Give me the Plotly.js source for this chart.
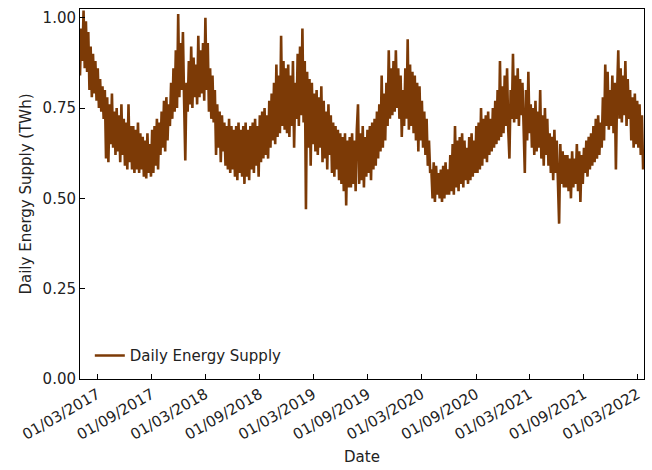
<!DOCTYPE html>
<html>
<head>
<meta charset="utf-8">
<script src="https://cdn.plot.ly/plotly-3.0.1.min.js"></script>
<style>html,body{margin:0;padding:0;background:#fff;}#chart{width:652px;height:470px;}</style>
</head>
<body>
<div id="chart"></div>
<script>
// Daily energy supply (TWh), sampled every 4 days starting 2017-01-01
const startDate = '2017-01-01';
const stepDays = 4;
const v2017 = [
  0.84,0.97,0.88,1.02,0.86,0.99,0.85,0.96,
  0.80,0.92,0.78,0.90,0.79,0.88,0.77,
  0.86,0.75,0.83,0.74,0.81,0.72,0.80,0.61,
  0.78,0.60,0.76,0.65,0.79,0.64,0.74,
  0.62,0.75,0.63,0.73,0.60,0.76,0.62,0.72,
  0.59,0.71,0.58,0.76,0.60,0.70,0.58,
  0.70,0.57,0.69,0.58,0.71,0.57,0.68,0.58,
  0.67,0.56,0.66,0.555,0.68,0.57,0.65,0.56,
  0.69,0.57,0.70,0.59,0.72,0.58,0.71,
  0.62,0.74,0.64,0.77,0.63,0.78,0.66,0.76,
  0.70,0.82,0.72,0.86,0.74,0.91,0.75,
  1.01,0.78,0.93,0.80,0.96,0.77,0.605,0.82,0.74
];
const v2018 = [
  0.88,0.76,0.92,0.75,0.89,0.78,0.87,0.76,
  0.95,0.78,0.91,0.79,0.93,0.77,1.00,
  0.80,0.93,0.74,0.86,0.72,0.84,0.71,0.80,
  0.62,0.76,0.64,0.74,0.60,0.73,0.63,
  0.71,0.59,0.70,0.58,0.72,0.57,0.70,0.58,
  0.69,0.56,0.70,0.55,0.71,0.57,0.69,
  0.56,0.70,0.54,0.71,0.56,0.69,0.55,0.70,
  0.58,0.71,0.57,0.72,0.59,0.70,0.56,0.73,
  0.60,0.74,0.61,0.75,0.62,0.73,0.61,
  0.77,0.64,0.79,0.66,0.82,0.65,0.87,0.67,
  0.84,0.68,0.95,0.70,0.88,0.69,0.86,
  0.68,0.87,0.67,0.84,0.70,0.88,0.64,0.82
];
const v2019 = [
  0.72,0.90,0.70,0.92,0.73,0.97,0.71,0.88,
  0.47,0.85,0.64,0.83,0.59,0.82,0.65,
  0.79,0.63,0.80,0.62,0.78,0.64,0.81,0.60,
  0.77,0.61,0.74,0.58,0.76,0.62,0.73,
  0.57,0.71,0.56,0.70,0.58,0.69,0.55,0.68,
  0.54,0.67,0.52,0.68,0.48,0.66,0.53,
  0.67,0.53,0.68,0.54,0.66,0.52,0.69,0.76,
  0.54,0.68,0.55,0.70,0.53,0.67,0.56,0.69,
  0.57,0.70,0.55,0.71,0.58,0.72,0.59,
  0.74,0.61,0.76,0.63,0.84,0.64,0.79,0.66,
  0.82,0.70,0.91,0.72,0.86,0.73,0.88,
  0.74,0.91,0.75,0.86,0.72,0.84,0.67,0.80
];
const v2020 = [
  0.70,0.86,0.72,0.94,0.69,0.87,0.70,0.85,
  0.68,0.84,0.66,0.82,0.63,0.81,0.66,
  0.77,0.64,0.74,0.62,0.72,0.59,0.66,0.57,
  0.58,0.50,0.60,0.49,0.59,0.51,0.57,
  0.50,0.58,0.49,0.59,0.50,0.60,0.51,0.58,
  0.51,0.62,0.52,0.65,0.51,0.70,0.53,
  0.66,0.52,0.67,0.54,0.68,0.53,0.66,0.55,
  0.64,0.54,0.67,0.55,0.68,0.56,0.66,0.57,
  0.70,0.57,0.71,0.58,0.75,0.59,0.72,
  0.61,0.73,0.60,0.74,0.62,0.72,0.63,0.75,
  0.64,0.77,0.65,0.80,0.66,0.88,0.67,
  0.81,0.68,0.84,0.70,0.86,0.69,0.61,0.80,0.72
];
const v2021 = [
  0.90,0.71,0.84,0.72,0.86,0.70,0.83,0.73,
  0.82,0.67,0.57,0.80,0.66,0.85,0.68,
  0.76,0.64,0.75,0.62,0.77,0.63,0.74,0.64,
  0.80,0.61,0.73,0.59,0.75,0.62,0.72,
  0.59,0.68,0.57,0.67,0.55,0.69,0.57,0.66,
  0.55,0.43,0.65,0.54,0.63,0.53,0.62,
  0.53,0.62,0.52,0.61,0.50,0.63,0.53,0.61,
  0.54,0.65,0.52,0.63,0.49,0.62,0.54,0.64,
  0.57,0.66,0.56,0.67,0.58,0.68,0.59,
  0.70,0.60,0.72,0.61,0.73,0.62,0.71,0.64,
  0.78,0.66,0.87,0.70,0.85,0.69,0.80,
  0.70,0.84,0.68,0.82,0.58,0.79,0.91,0.72
];
const v2022 = [
  0.86,0.71,0.84,0.73,0.88,0.70,0.83,0.72,
  0.80,0.66,0.78,0.64,0.79,0.65,0.77,
  0.64,0.76,0.62,0.73,0.58
];
const tickDates = ['2017-03-01','2017-09-01','2018-03-01','2018-09-01','2019-03-01','2019-09-01',
                   '2020-03-01','2020-09-01','2021-03-01','2021-09-01','2022-03-01'];
const tickLabels = ['01/03/2017','01/09/2017','01/03/2018','01/09/2018','01/03/2019','01/09/2019',
                    '01/03/2020','01/09/2020','01/03/2021','01/09/2021','01/03/2022'];
const yTicks = [0, 0.25, 0.5, 0.75, 1.0];

const values = [].concat(v2017, v2018, v2019, v2020, v2021, v2022);
const t0 = Date.parse(startDate + 'T00:00:00Z');
const dates = values.map((_, i) => new Date(t0 + i * stepDays * 86400000).toISOString().slice(0, 10));

const font = {family: 'DejaVu Sans, sans-serif', size: 15, color: '#222'};
const trace = {
  x: dates, y: values, type: 'scatter', mode: 'lines',
  name: 'Daily Energy Supply',
  line: {color: '#7c3a06', width: 2.6}
};
const layout = {
  width: 652, height: 470,
  margin: {l: 80, r: 8, t: 9, b: 91},
  paper_bgcolor: '#fff', plot_bgcolor: '#fff',
  font: font,
  showlegend: true,
  legend: {x: 0.0174, y: 0.0627, xanchor: 'left', yanchor: 'middle', bgcolor: 'rgba(0,0,0,0)', borderwidth: 0, font: font},
  xaxis: {
    type: 'date', range: ['2017-01-01', '2022-03-23'],
    tickmode: 'array', tickvals: tickDates, ticktext: tickLabels, tickangle: -30,
    ticks: 'inside', ticklen: 5, tickwidth: 1, tickcolor: '#000',
    showline: true, linecolor: '#000', linewidth: 1, mirror: true,
    showgrid: false, zeroline: false,
    title: {text: 'Date', font: font, standoff: 8}
  },
  yaxis: {
    range: [0, 1.024],
    tickmode: 'array', tickvals: yTicks, tickformat: '.2f',
    ticks: 'inside', ticklen: 5, tickwidth: 1, tickcolor: '#000',
    showline: true, linecolor: '#000', linewidth: 1, mirror: true,
    showgrid: false, zeroline: false,
    title: {text: 'Daily Energy Supply (TWh)', font: font, standoff: 7}
  }
};
Plotly.newPlot('chart', [trace], layout, {displayModeBar: false, staticPlot: true});
</script>
</body>
</html>
